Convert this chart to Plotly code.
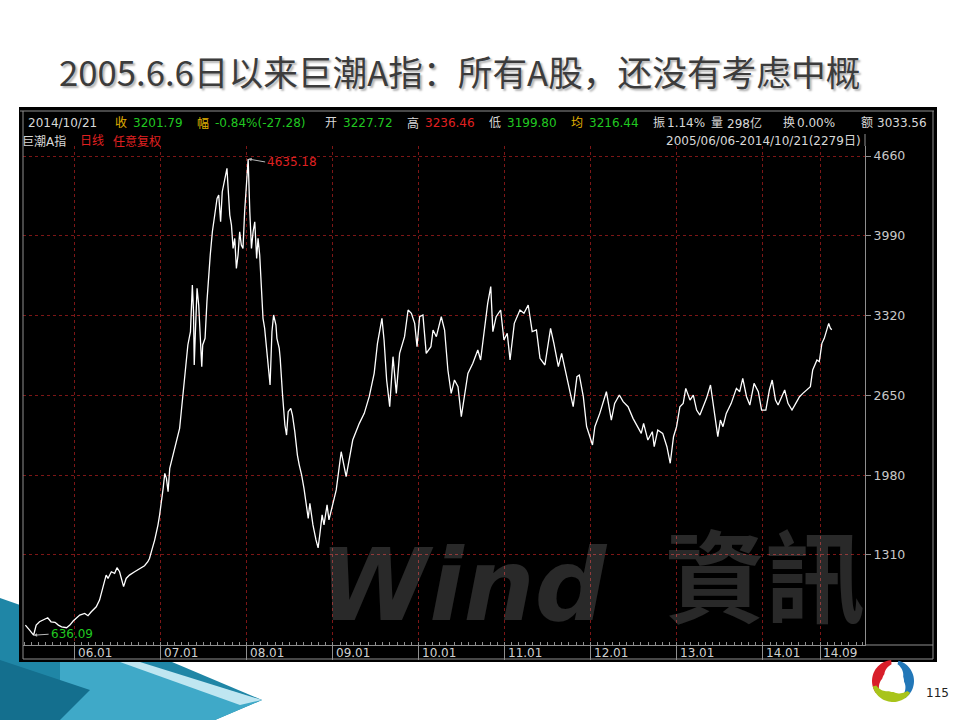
import numpy as np
import plotly.graph_objects as go

# ---------------- data ----------------
dates = [
    "2005-06-06", "2005-06-14", "2005-06-24", "2005-07-11", "2005-07-22", "2005-08-05", "2005-08-19",
    "2005-09-09", "2005-09-23", "2005-10-10", "2005-10-24", "2005-11-07", "2005-11-28", "2005-12-12",
    "2005-12-26", "2006-01-09", "2006-01-23", "2006-02-13", "2006-02-27", "2006-03-13", "2006-04-03",
    "2006-04-17", "2006-05-08", "2006-05-15", "2006-05-23", "2006-06-06", "2006-06-20", "2006-06-30",
    "2006-07-11", "2006-07-28", "2006-08-08", "2006-08-22", "2006-09-13", "2006-10-09", "2006-10-25",
    "2006-11-08", "2006-11-15", "2006-11-27", "2006-12-07", "2006-12-21", "2006-12-28", "2007-01-12",
    "2007-01-19", "2007-01-26", "2007-02-02", "2007-02-09", "2007-02-21", "2007-03-02", "2007-03-13",
    "2007-03-23", "2007-03-30", "2007-04-06", "2007-04-13", "2007-04-20", "2007-04-27", "2007-05-08",
    "2007-05-11", "2007-05-16", "2007-05-21", "2007-05-24", "2007-05-29", "2007-06-05", "2007-06-12",
    "2007-06-19", "2007-06-25", "2007-06-29", "2007-07-09", "2007-07-17", "2007-07-24", "2007-07-31",
    "2007-08-09", "2007-08-20", "2007-08-29", "2007-09-05", "2007-09-13", "2007-09-20", "2007-09-28",
    "2007-10-10", "2007-10-15", "2007-10-22", "2007-10-29", "2007-11-05", "2007-11-12", "2007-11-19",
    "2007-11-26", "2007-12-03", "2007-12-10", "2007-12-17", "2007-12-24", "2008-01-02", "2008-01-08",
    "2008-01-15", "2008-01-22", "2008-01-29", "2008-02-05", "2008-02-13", "2008-02-19", "2008-02-26",
    "2008-03-04", "2008-03-11", "2008-03-18", "2008-03-25", "2008-04-01", "2008-04-10", "2008-04-18",
    "2008-04-25", "2008-05-05", "2008-05-09", "2008-05-19", "2008-05-23", "2008-06-02", "2008-06-12",
    "2008-06-19", "2008-06-26", "2008-07-07", "2008-07-14", "2008-07-24", "2008-08-04", "2008-08-12",
    "2008-08-22", "2008-09-01", "2008-09-09", "2008-09-19", "2008-09-26", "2008-10-09", "2008-10-22",
    "2008-10-31", "2008-11-07", "2008-11-17", "2008-11-25", "2008-12-08", "2008-12-16", "2008-12-26",
    "2009-01-16", "2009-02-06", "2009-02-27", "2009-03-27", "2009-04-24", "2009-05-15", "2009-06-05",
    "2009-06-26", "2009-07-10", "2009-07-29", "2009-08-07", "2009-08-18", "2009-08-31", "2009-09-14",
    "2009-09-28", "2009-10-12", "2009-11-02", "2009-11-17", "2009-12-01", "2009-12-15", "2009-12-25",
    "2010-01-05", "2010-01-19", "2010-02-02", "2010-02-22", "2010-03-03", "2010-03-17", "2010-04-07",
    "2010-04-21", "2010-05-05", "2010-05-19", "2010-06-02", "2010-06-17", "2010-07-01", "2010-07-15",
    "2010-07-29", "2010-08-19", "2010-09-09", "2010-09-21", "2010-10-08", "2010-10-21", "2010-11-03",
    "2010-11-12", "2010-11-26", "2010-12-15", "2010-12-29", "2011-01-12", "2011-01-24", "2011-02-11",
    "2011-03-07", "2011-03-24", "2011-04-11", "2011-04-28", "2011-05-16", "2011-05-31", "2011-06-21",
    "2011-07-15", "2011-07-29", "2011-08-17", "2011-08-31", "2011-09-21", "2011-09-30", "2011-10-19",
    "2011-11-04", "2011-11-14", "2011-12-01", "2011-12-15", "2011-12-29", "2012-01-09", "2012-01-19",
    "2012-02-09", "2012-03-08", "2012-03-29", "2012-04-12", "2012-05-02", "2012-05-18", "2012-06-08",
    "2012-06-29", "2012-07-20", "2012-08-03", "2012-08-13", "2012-08-31", "2012-09-19", "2012-09-27",
    "2012-10-12", "2012-11-02", "2012-11-20", "2012-12-04", "2012-12-18", "2012-12-31", "2013-01-14",
    "2013-01-28", "2013-02-08", "2013-02-26", "2013-03-12", "2013-03-26", "2013-04-09", "2013-04-23",
    "2013-05-07", "2013-05-24", "2013-06-07", "2013-06-24", "2013-07-05", "2013-07-16", "2013-07-30",
    "2013-08-20", "2013-09-11", "2013-09-25", "2013-10-08", "2013-10-24", "2013-11-07", "2013-11-25",
    "2013-12-13", "2013-12-27", "2014-01-14", "2014-01-29", "2014-02-10", "2014-02-24", "2014-03-07",
    "2014-03-21", "2014-04-04", "2014-04-18", "2014-05-05", "2014-05-21", "2014-06-06", "2014-06-20",
    "2014-07-08", "2014-07-22", "2014-08-01", "2014-08-19", "2014-08-29", "2014-09-09", "2014-09-19",
    "2014-10-08", "2014-10-15", "2014-10-21",
]
values = [
    721, 699, 679, 636.09, 721, 749, 763,
    783, 749, 744, 721, 707, 699, 721,
    755, 777, 805, 819, 800, 833, 875,
    931, 1099, 1141, 1113, 1169, 1155, 1203,
    1169, 1044, 1113, 1141, 1169, 1197, 1220,
    1253, 1281, 1365, 1435, 1561, 1645, 1869,
    1995, 1953, 1841, 2037, 2135, 2191, 2289,
    2373, 2513, 2653, 2793, 2961, 3073, 3185,
    3409, 3577, 3353, 2905, 3185, 3549, 3409,
    3129, 2891, 3073, 3129, 3437, 3688, 3828,
    4024, 4192, 4304, 4332, 4108, 4360, 4444,
    4556, 4388, 4164, 4080, 3884, 3968, 3716,
    3828, 4024, 3912, 3884, 4192, 4472, 4635.18,
    4192, 3884, 4024, 4108, 3800, 3968, 3828,
    3577, 3297, 3213, 3073, 2961, 2737, 3185,
    3325, 3241, 3129, 3045, 2961, 2653, 2401,
    2317, 2513, 2541, 2485, 2345, 2149, 2065,
    1981, 1869, 1757, 1617, 1744, 1562, 1436,
    1370, 1478, 1646, 1562, 1730, 1604, 1688,
    1856, 2177, 1967, 2275, 2415, 2499, 2639,
    2835, 3087, 3297, 3115, 2779, 2555, 2975,
    2667, 3003, 3143, 3367, 3339, 3255, 3059,
    3311, 3325, 3003, 3059, 3199, 3143, 3311,
    3199, 2863, 2667, 2779, 2723, 2471, 2639,
    2835, 2919, 3031, 2947, 3227, 3423, 3563,
    3185, 3311, 3367, 3115, 3171, 2947, 3255,
    3367, 3339, 3409, 3185, 3199, 2961, 2905,
    3213, 3087, 2891, 3003, 2807, 2723, 2555,
    2807, 2821, 2639, 2387, 2303, 2233, 2387,
    2499, 2681, 2443, 2583, 2653, 2597, 2555,
    2457, 2387, 2331, 2415, 2275, 2345, 2219,
    2359, 2331, 2219, 2080, 2303, 2387, 2555,
    2583, 2709, 2611, 2653, 2527, 2485, 2555,
    2625, 2737, 2555, 2303, 2443, 2387, 2499,
    2583, 2709, 2681, 2793, 2639, 2569, 2751,
    2681, 2527, 2527, 2695, 2779, 2611, 2569,
    2639, 2695, 2583, 2527, 2583, 2639, 2667,
    2701, 2723, 2863, 2947, 2933, 3087, 3129,
    3255, 3213, 3201.79,
]

x_tick_dates = ["2006-01-01", "2007-01-01", "2008-01-01", "2009-01-01", "2010-01-01",
                "2011-01-01", "2012-01-01", "2013-01-01", "2014-01-01", "2014-09-01"]
x_tick_labels = ["06.01", "07.01", "08.01", "09.01", "10.01",
                 "11.01", "12.01", "13.01", "14.01", "14.09"]
y_ticks = [1310, 1980, 2650, 3320, 3990, 4660]

peak_date, peak_value, peak_label = "2008-01-08", 4635.18, "4635.18"
low_date, low_value, low_label = "2005-07-11", 636.09, "636.09"

title_text = "2005.6.6日以来巨潮A指：所有A股，还没有考虑中概"

# header quote bar: (label, value) pairs
header_date = "2014/10/21"
header_items = [
    ("收", "3201.79"), ("幅", "-0.84%(-27.28)"), ("开", "3227.72"), ("高", "3236.46"),
    ("低", "3199.80"), ("均", "3216.44"), ("振", "1.14%"), ("量", "298亿"),
    ("换", "0.00%"), ("额", "3033.56"),
]
header_label_colors = ["#e0b000", "#e0b000", "#d8d8d8", "#d8d8d8", "#d8d8d8",
                       "#e0b000", "#d8d8d8", "#d8d8d8", "#d8d8d8", "#d8d8d8"]
header_value_colors = ["#20c820", "#20c820", "#20c820", "#e02020", "#20c820",
                       "#20c820", "#d8d8d8", "#d8d8d8", "#d8d8d8", "#d8d8d8"]
header_label_x = [113, 195, 323, 405, 487, 569, 651, 709, 781, 859]
header_value_x = [131, 213, 341, 423, 505, 587, 665, 725, 795, 875]

sub_left = [("巨潮A指", "#d8d8d8", 20), ("日线", "#e02020", 78), ("任意复权", "#e02020", 111)]
sub_right = "2005/06/06-2014/10/21(2279日)"
page_number = "115"

# ---------------- geometry helpers ----------------
W, H = 960, 720
PL, PR, PT, PB = 23, 865, 146, 645


def px(x):
    return (x - PL) / (PR - PL)


def py(y):
    return (PB - y) / (PB - PT)


def poly(points):
    s = "M " + " L ".join(f"{px(a):.5f},{py(b):.5f}" for a, b in points) + " Z"
    return s


FONT = "DejaVu Sans, Noto Sans CJK SC, sans-serif"
GRID = "#7d1616"
LINEC = "#8e8e8e"

fig = go.Figure()
fig.add_trace(go.Scatter(x=dates, y=values, mode="lines",
                         line=dict(color="white", width=1.3), hoverinfo="skip",
                         showlegend=False))

shapes = []
# bottom-left swoosh decoration
shapes.append(dict(type="path", xref="paper", yref="paper", layer="below",
                   path=poly([(0, 598), (120, 640), (262, 700), (215, 720), (0, 720)]),
                   fillcolor="#1f86a6", line=dict(width=0)))
shapes.append(dict(type="path", xref="paper", yref="paper", layer="below",
                   path=poly([(60, 640), (262, 700), (215, 720), (60, 720)]),
                   fillcolor="#3fa9c8", line=dict(width=0)))
shapes.append(dict(type="path", xref="paper", yref="paper", layer="below",
                   path=poly([(140, 662), (262, 700), (240, 705), (120, 662)]),
                   fillcolor="#bfe6f1", line=dict(width=0)))
shapes.append(dict(type="path", xref="paper", yref="paper", layer="below",
                   path=poly([(0, 660), (90, 690), (60, 720), (0, 720)]),
                   fillcolor="#146f8e", line=dict(width=0)))
# black frame of the terminal screenshot
shapes.append(dict(type="rect", xref="paper", yref="paper", layer="below",
                   x0=px(19), x1=px(937), y0=py(662), y1=py(107),
                   fillcolor="black", line=dict(width=0)))
# frame borders
for (x0, y0, x1, y1) in [(20, 111, 934, 111), (23, 111, 23, 659), (933, 111, 933, 659),
                         (23, 659, 933, 659), (865, 645, 933, 645), (865, 134, 865, 146)]:
    shapes.append(dict(type="line", xref="paper", yref="paper", layer="above",
                       x0=px(x0), y0=py(y0), x1=px(x1), y1=py(y1),
                       line=dict(color=LINEC, width=1)))

# logo: three coloured crescents
cx, cy, r_out, r_in = 893, 681, 21, 13
for a0, a1, col in [(95, 215, "#d81e2a"), (-55, 75, "#2277b8"), (195, 325, "#a8c41a")]:
    ang = np.radians(np.linspace(a0, a1, 30))
    mid = np.radians((a0 + a1) / 2)
    thick = r_in + (r_out - r_in) * np.clip(1.2 - np.abs(ang - mid) / np.radians(65), 0.15, 1)
    outer = [(cx + r_out * np.cos(a), cy - r_out * np.sin(a)) for a in ang]
    inner = [(cx + (r_out - (t - r_in) - 2) * np.cos(a), cy - (r_out - (t - r_in) - 2) * np.sin(a))
             for a, t in zip(ang[::-1], thick[::-1])]
    shapes.append(dict(type="path", xref="paper", yref="paper", layer="above",
                       path=poly(outer + inner), fillcolor=col, line=dict(width=0)))

annotations = []
# slide title
annotations.append(dict(xref="paper", yref="paper", x=px(57), y=py(71), xanchor="left",
                        yanchor="middle", showarrow=False, text=title_text,
                        font=dict(family="Noto Sans CJK SC", size=34.7, color="#3c3c3c",
                                  shadow="2px 2px 2px #b4b4b4")))
# header bar
annotations.append(dict(xref="paper", yref="paper", x=px(26), y=py(123), xanchor="left",
                        yanchor="middle", showarrow=False, text=header_date,
                        font=dict(family=FONT, size=12, color="#d8d8d8")))
for (lab, val), lc, vc, lx, vx in zip(header_items, header_label_colors, header_value_colors,
                                      header_label_x, header_value_x):
    annotations.append(dict(xref="paper", yref="paper", x=px(lx), y=py(123), xanchor="left",
                            yanchor="middle", showarrow=False, text=lab,
                            font=dict(family=FONT, size=12, color=lc)))
    annotations.append(dict(xref="paper", yref="paper", x=px(vx), y=py(123), xanchor="left",
                            yanchor="middle", showarrow=False, text=val,
                            font=dict(family=FONT, size=12, color=vc)))
for txt, col, x0 in sub_left:
    annotations.append(dict(xref="paper", yref="paper", x=px(x0), y=py(141), xanchor="left",
                            yanchor="middle", showarrow=False, text=txt,
                            font=dict(family=FONT, size=12, color=col)))
annotations.append(dict(xref="paper", yref="paper", x=px(863), y=py(141), xanchor="right",
                        yanchor="middle", showarrow=False, text=sub_right,
                        font=dict(family=FONT, size=12, color="#d8d8d8")))
# x tick labels (right of each separator)
for d, t in zip(x_tick_dates, x_tick_labels):
    annotations.append(dict(xref="x", yref="paper", x=d, y=py(652.5), xanchor="left",
                            yanchor="middle", xshift=1, showarrow=False, text=t,
                            font=dict(family=FONT, size=12, color="#d0d0d0")))
# watermark, sitting on the bottom of the plot area
annotations.append(dict(xref="paper", yref="paper", x=px(318), y=py(644.5), xanchor="left",
                        yanchor="bottom", borderpad=0, showarrow=False,
                        text="<b><i>Wind</i></b>",
                        font=dict(family="DejaVu Sans", size=100, color="rgba(255,255,255,0.16)")))
annotations.append(dict(xref="paper", yref="paper", x=px(866), y=py(644.5), xanchor="right",
                        yanchor="bottom", borderpad=0, showarrow=False,
                        text="<b>資訊</b>",
                        font=dict(family="Noto Sans CJK TC", size=100, color="rgba(255,255,255,0.16)")))
# extreme labels
annotations.append(dict(x=peak_date, y=peak_value, xref="x", yref="y", text=peak_label,
                        showarrow=True, ax=17, ay=3, xanchor="left", yanchor="middle",
                        arrowhead=2, arrowsize=0.7, arrowwidth=1, arrowcolor="#b8b8b8",
                        font=dict(family=FONT, size=12, color="#e02020")))
annotations.append(dict(x=low_date, y=low_value, xref="x", yref="y", text=low_label,
                        showarrow=True, ax=15, ay=-1, xanchor="left", yanchor="middle",
                        arrowhead=2, arrowsize=0.7, arrowwidth=1, arrowcolor="#b8b8b8",
                        font=dict(family=FONT, size=12, color="#20c820")))
# page number
annotations.append(dict(xref="paper", yref="paper", x=px(937), y=py(693), xanchor="center",
                        yanchor="middle", showarrow=False, text=page_number,
                        font=dict(family="DejaVu Sans", size=12, color="#222222")))

fig.update_layout(
    width=W, height=H, autosize=False,
    margin=dict(l=PL, r=W - PR, t=PT, b=H - PB, pad=0),
    paper_bgcolor="white", plot_bgcolor="black",
    showlegend=False,
    shapes=shapes, annotations=annotations,
    xaxis=dict(type="date", range=["2005-05-27", "2015-03-11"],
               tickmode="array", tickvals=x_tick_dates, showticklabels=False,
               showgrid=True, gridcolor=GRID, griddash="dot", gridwidth=1,
               ticks="outside", ticklen=14, tickcolor=LINEC, tickwidth=1,
               showline=True, linecolor=LINEC, linewidth=1, zeroline=False,
               minor=dict(ticks="inside", ticklen=3, tickcolor=LINEC, dtick="M1",
                          tick0="2006-01-01", showgrid=False)),
    yaxis=dict(range=[554, 4744], side="right", tickmode="array", tickvals=y_ticks,
               showgrid=True, gridcolor=GRID, griddash="dot", gridwidth=1,
               ticks="outside", ticklen=5, tickcolor=LINEC,
               tickfont=dict(family=FONT, size=12.5, color="#c8c8c8"),
               showline=True, linecolor=LINEC, linewidth=1, zeroline=False),
)

fig.write_html("out.html", config={"displayModeBar": False},
               post_script="document.body.style.margin='0px';")
